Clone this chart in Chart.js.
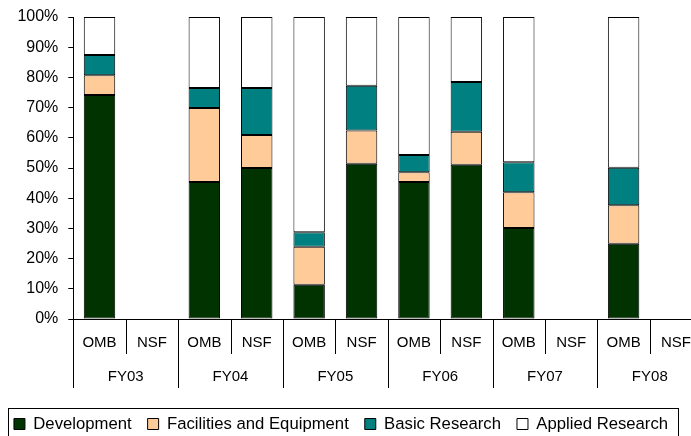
<!DOCTYPE html>
<html>
<head>
<meta charset="utf-8">
<script src="https://cdn.jsdelivr.net/npm/chart.js@4.4.1/dist/chart.umd.min.js"></script>
<style>
html, body { margin: 0; padding: 0; background: #fff; overflow: hidden; }
#wrap { width: 706px; height: 436px; }
</style>
</head>
<body>
<div id="wrap"><canvas id="c1"></canvas></div>
<script>
var categories = ['OMB', 'NSF', 'OMB', 'NSF', 'OMB', 'NSF', 'OMB', 'NSF', 'OMB', 'NSF', 'OMB', 'NSF'];
var years = ['FY03', 'FY04', 'FY05', 'FY06', 'FY07', 'FY08'];
var yTicks = [0, 10, 20, 30, 40, 50, 60, 70, 80, 90, 100];

var development = [74.2, null, 45.4, 50.0, 11.3, 51.4, 45.4, 51.1, 30.1, null, 24.9, null];
var facilities  = [6.5,  null, 24.5, 10.9, 12.6, 11.0, 3.2,  10.9, 11.9, null, 12.8, null];
var basic       = [6.7,  null, 6.6,  15.6, 4.8,  14.8, 5.7,  16.5, 9.9,  null, 12.4, null];
var applied     = [12.6, null, 23.5, 23.5, 71.3, 22.8, 45.7, 21.5, 48.1, null, 49.9, null];

var font = "'Liberation Sans', Arial, sans-serif";

// vertical separators under the axis + frame round the legend
var separators = {
    id: 'separators',
    afterDraw: function(chart) {
        var x = chart.scales.x, x2 = chart.scales.x2, ctx = chart.ctx;
        var step = x.getPixelForValue(1) - x.getPixelForValue(0);
        ctx.save();
        ctx.strokeStyle = '#000';
        ctx.lineWidth = 1;
        for (var i = 0; i <= categories.length; i++) {
            var px = Math.round(x.getPixelForValue(i) - step / 2) + 0.5;
            var end = (i % 2 === 0) ? x2.top + 34 : x.bottom;
            ctx.beginPath();
            ctx.moveTo(px, x.top);
            ctx.lineTo(px, end);
            ctx.stroke();
        }
        var hb = chart.legend.legendHitBoxes;
        if (hb && hb.length) {
            var last = hb[hb.length - 1];
            var left = hb[0].left - 6, right = last.left + last.width + 10;
            var mid = hb[0].top + hb[0].height / 2;
            ctx.strokeRect(Math.round(left) + 0.5, Math.round(mid - 16) + 0.5, Math.round(right - left), 40);
        }
        ctx.restore();
    }
};

var data = {
    labels: categories,
    datasets: [
        { label: 'Development', data: development, backgroundColor: '#003300' },
        { label: 'Facilities and Equipment', data: facilities, backgroundColor: '#FFCC99' },
        { label: 'Basic Research', data: basic, backgroundColor: '#008080' },
        { label: 'Applied Research', data: applied, backgroundColor: '#FFFFFF' }
    ].map(function(d) {
        d.borderColor = '#000';
        d.borderWidth = 1;
        d.borderSkipped = false;
        d.barPercentage = 0.6;
        d.categoryPercentage = 1;
        return d;
    })
};

var options = {
    responsive: true,
    maintainAspectRatio: false,
    animation: false,
    layout: { padding: { left: -24, right: 0, top: 17, bottom: -6.35 } },
    plugins: {
        tooltip: { enabled: false },
        legend: {
            position: 'bottom',
            labels: {
                font: { family: font, size: 16.7 },
                color: '#000',
                boxWidth: 11,
                boxHeight: 11,
                padding: 16
            }
        }
    },
    scales: {
        x: {
            stacked: true,
            offset: true,
            grid: { display: false, drawTicks: false },
            border: { display: true, color: '#000', width: 1 },
            ticks: { autoSkip: false, maxRotation: 0, padding: 15, color: '#000', font: { family: font, size: 15 } },
            afterFit: function(s) { s.height = 35; }
        },
        x2: {
            type: 'category',
            labels: years,
            position: 'bottom',
            offset: true,
            grid: { display: false, drawTicks: false },
            border: { display: false },
            ticks: { autoSkip: false, maxRotation: 0, padding: 14, color: '#000', font: { family: font, size: 15 } },
            afterFit: function(s) { s.height = 45.65; }
        },
        y: {
            stacked: true,
            min: 0,
            max: 100,
            afterBuildTicks: function(s) { s.ticks = yTicks.map(function(v) { return { value: v }; }); },
            grid: { drawOnChartArea: false, drawTicks: true, tickLength: 5, color: '#000' },
            border: { display: true, color: '#000', width: 1 },
            ticks: {
                padding: 10,
                color: '#000',
                font: { family: font, size: 16 },
                callback: function(v) { return v + '%'; }
            },
            afterFit: function(s) { s.width = 97.3; s.paddingTop = 0; }
        }
    }
};

new Chart(document.getElementById('c1').getContext('2d'), {
    type: 'bar',
    data: data,
    options: options,
    plugins: [separators]
});
</script>
</body>
</html>
